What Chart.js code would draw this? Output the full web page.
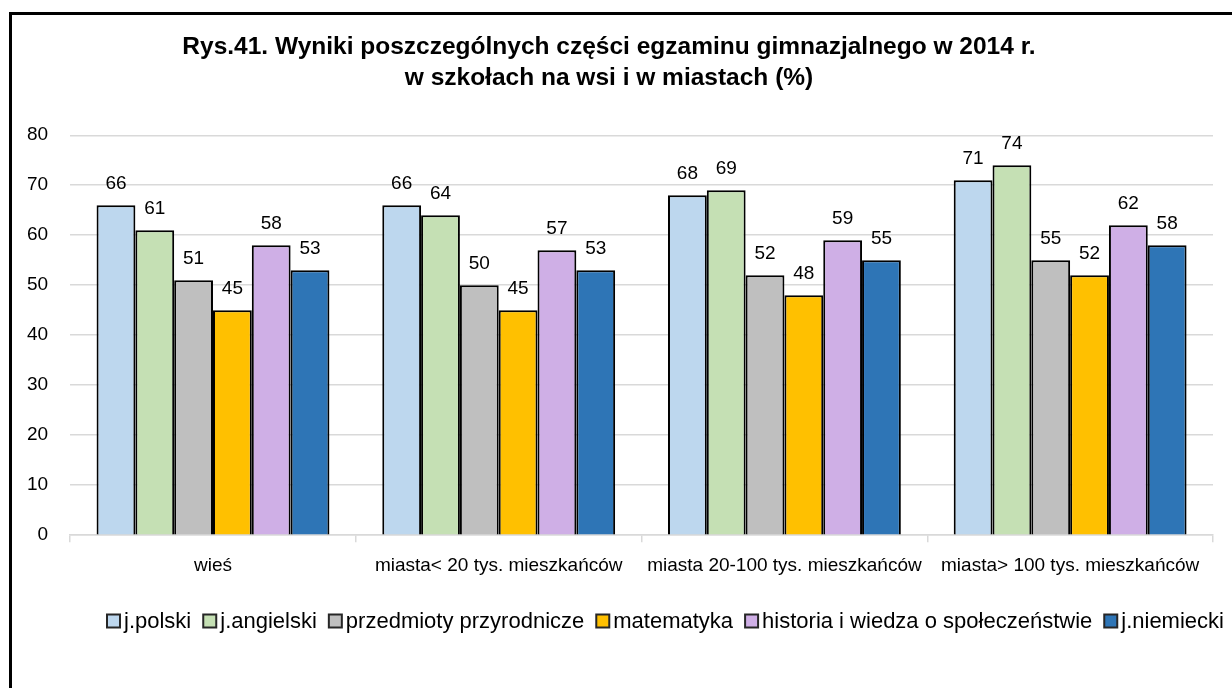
<!DOCTYPE html>
<html>
<head>
<meta charset="utf-8">
<script src="https://cdn.jsdelivr.net/npm/chart.js@4.4.1/dist/chart.umd.min.js"></script>
<style>
  html, body { margin: 0; padding: 0; background: #fff; }
  #wrap { position: relative; width: 1232px; height: 688px; overflow: hidden; }
  #frame {
    position: absolute; left: 9px; top: 12px; width: 1300px; height: 800px;
    border-left: 3px solid #000; border-top: 3px solid #000; pointer-events: none;
  }
  canvas { position: absolute; left: 0; top: 0; }
</style>
</head>
<body>
<div id="wrap">
  <canvas id="examChart" width="1232" height="688"></canvas>
  <div id="frame"></div>
</div>
<script>
const categories = ['wieś', 'miasta< 20 tys. mieszkańców', 'miasta 20-100 tys. mieszkańców', 'miasta> 100 tys. mieszkańców'];

const polski = [66, 66, 68, 71];
const angielski = [61, 64, 69, 74];
const przyrodnicze = [51, 50, 52, 55];
const matematyka = [45, 45, 48, 52];
const historia = [58, 57, 59, 62];
const niemiecki = [53, 53, 55, 58];

const yTicks = [0, 10, 20, 30, 40, 50, 60, 70, 80];

const FONT = "'Liberation Sans', Arial, sans-serif";

// value labels drawn above each bar
const barValues = {
    id: 'barValues',
    afterDatasetsDraw(chart) {
        const ctx = chart.ctx;
        ctx.save();
        ctx.font = '19px ' + FONT;
        ctx.fillStyle = '#000';
        ctx.textAlign = 'center';
        ctx.textBaseline = 'alphabetic';
        chart.data.datasets.forEach((ds, i) => {
            chart.getDatasetMeta(i).data.forEach((bar, j) => {
                ctx.fillText(ds.data[j], bar.x, bar.y - 16);
            });
        });
        ctx.restore();
    }
};

// compact legend row under the axis: small box, tight gap, then the name
const legendRow = {
    id: 'legendRow',
    afterDraw(chart) {
        const ctx = chart.ctx;
        const box = 13;
        const y = 621;
        let x = 107;
        ctx.save();
        ctx.font = '22px ' + FONT;
        ctx.textBaseline = 'middle';
        ctx.textAlign = 'left';
        chart.data.datasets.forEach(ds => {
            ctx.fillStyle = ds.backgroundColor;
            ctx.fillRect(x, y - box / 2, box, box);
            ctx.lineWidth = 2;
            ctx.strokeStyle = '#262626';
            ctx.strokeRect(x, y - box / 2, box, box);
            x += box + 4;
            ctx.fillStyle = '#000';
            ctx.fillText(ds.label, x, y + 1);
            x += ctx.measureText(ds.label).width + 12;
        });
        ctx.restore();
    }
};

function series(label, data, color) {
    return {
        label: label,
        data: data,
        backgroundColor: color,
        borderColor: '#000',
        borderWidth: 2,
        borderSkipped: 'bottom'
    };
}

new Chart(document.getElementById('examChart').getContext('2d'), {
    type: 'bar',
    data: {
        labels: categories,
        datasets: [
            series('j.polski', polski, '#BDD7EE'),
            series('j.angielski', angielski, '#C5E0B4'),
            series('przedmioty przyrodnicze', przyrodnicze, '#BFBFBF'),
            series('matematyka', matematyka, '#FFC000'),
            series('historia i wiedza o społeczeństwie', historia, '#CFAFE6'),
            series('j.niemiecki', niemiecki, '#2E75B6')
        ]
    },
    options: {
        responsive: false,
        animation: false,
        devicePixelRatio: 1,
        layout: { padding: { left: 5, right: 19, top: 32, bottom: 99 } },
        datasets: { bar: { categoryPercentage: 0.815, barPercentage: 1 } },
        scales: {
            x: {
                grid: { offset: true, drawOnChartArea: false, drawTicks: true, tickLength: 7, color: '#d9d9d9', lineWidth: 1.5 },
                border: { color: '#d9d9d9', width: 1.5 },
                ticks: { color: '#000', font: { family: FONT, size: 19 }, padding: 12, maxRotation: 0, autoSkip: false }
            },
            y: {
                min: 0,
                max: 80,
                afterBuildTicks(axis) { axis.ticks = yTicks.map(v => ({ value: v })); },
                grid: { color: '#d9d9d9', lineWidth: 1.5, drawTicks: false },
                border: { display: false },
                ticks: { color: '#000', font: { family: FONT, size: 19 }, padding: 22 }
            }
        },
        plugins: {
            title: {
                display: true,
                text: ['Rys.41. Wyniki poszczególnych części egzaminu gimnazjalnego w 2014 r.', 'w szkołach na wsi i w miastach (%)'],
                color: '#000',
                font: { family: FONT, size: 24.5, weight: 'bold', lineHeight: 1.25 },
                padding: { top: 0, bottom: 42 }
            },
            legend: { display: false },
            tooltip: { enabled: false }
        }
    },
    plugins: [barValues, legendRow]
});
</script>
</body>
</html>
